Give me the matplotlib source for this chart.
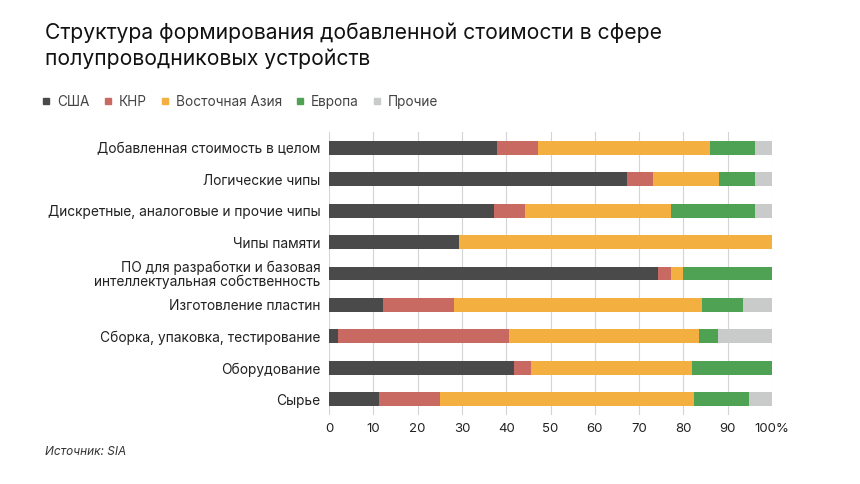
import matplotlib.pyplot as plt
import numpy as np
from matplotlib.lines import Line2D

plt.rcParams['font.family'] = ['Inter', 'DejaVu Sans']

categories = [
    "Добавленная стоимость в целом",
    "Логические чипы",
    "Дискретные, аналоговые и прочие чипы",
    "Чипы памяти",
    "ПО для разработки и базовая\nинтеллектуальная собственность",
    "Изготовление пластин",
    "Сборка, упаковка, тестирование",
    "Оборудование",
    "Сырье",
]
series_names = ["США", "КНР", "Восточная Азия", "Европа", "Прочие"]
usa = [38.0, 67.2, 37.2, 29.4, 74.3, 12.2, 2.1, 41.7, 11.3]
china = [9.2, 6.0, 7.1, 0.0, 3.0, 16.1, 38.5, 3.8, 13.7]
east_asia = [38.9, 14.9, 32.9, 70.6, 2.7, 55.8, 43.0, 36.4, 57.4]
europe = [10.0, 8.0, 18.9, 0.0, 20.0, 9.4, 4.1, 18.1, 12.3]
other = [3.9, 3.9, 3.9, 0.0, 0.0, 6.5, 12.3, 0.0, 5.3]
xticks = [0, 10, 20, 30, 40, 50, 60, 70, 80, 90, 100]
xtick_labels = ["0", "10", "20", "30", "40", "50", "60", "70", "80", "90", "100%"]

colors = ["#4a4a4a", "#c96a62", "#f3b041", "#4fa254", "#c9cbcb"]

fig = plt.figure(figsize=(8.6, 4.84), dpi=100)
ax = fig.add_axes([0.3826, 0.1426, 0.5151, 0.5844])

y = np.arange(len(categories))
left = np.zeros(len(categories))
for name, vals, c in zip(series_names, [usa, china, east_asia, europe, other], colors):
    vals = np.array(vals)
    ax.barh(y, vals, left=left, height=0.44, color=c, zorder=3)
    left += vals

ax.set_ylim(len(categories) - 0.5, -0.5)
ax.set_xlim(0, 100)
ax.set_xticks(xticks)
ax.set_xticklabels(xtick_labels, fontsize=9.5, color="#222222")
ax.set_yticks(y)
ax.set_yticklabels(categories, fontsize=9.9, color="#222222", linespacing=1.0)
ax.tick_params(length=0, pad=6)
ax.grid(axis="x", color="#d4d4d4", linewidth=0.8, zorder=0)
for s in ax.spines.values():
    s.set_visible(False)

fig.text(0.052, 0.905, "Структура формирования добавленной стоимости в сфере\nполупроводниковых устройств",
         fontsize=15.2, color="#111111", va="center", linespacing=1.35)

handles = [Line2D([], [], marker="s", linestyle="none", markersize=5, color=c) for c in colors]
fig.legend(handles, series_names, loc="center left", bbox_to_anchor=(0.048, 0.789), ncol=5,
           frameon=False, fontsize=9.8, handlelength=0.7, handletextpad=0.45,
           columnspacing=1.0, borderpad=0, borderaxespad=0, labelcolor="#444444")

fig.text(0.052, 0.066, "Источник: SIA", fontsize=8.5, style="italic", color="#333333", va="center")

fig.savefig("out.png", dpi=100)
